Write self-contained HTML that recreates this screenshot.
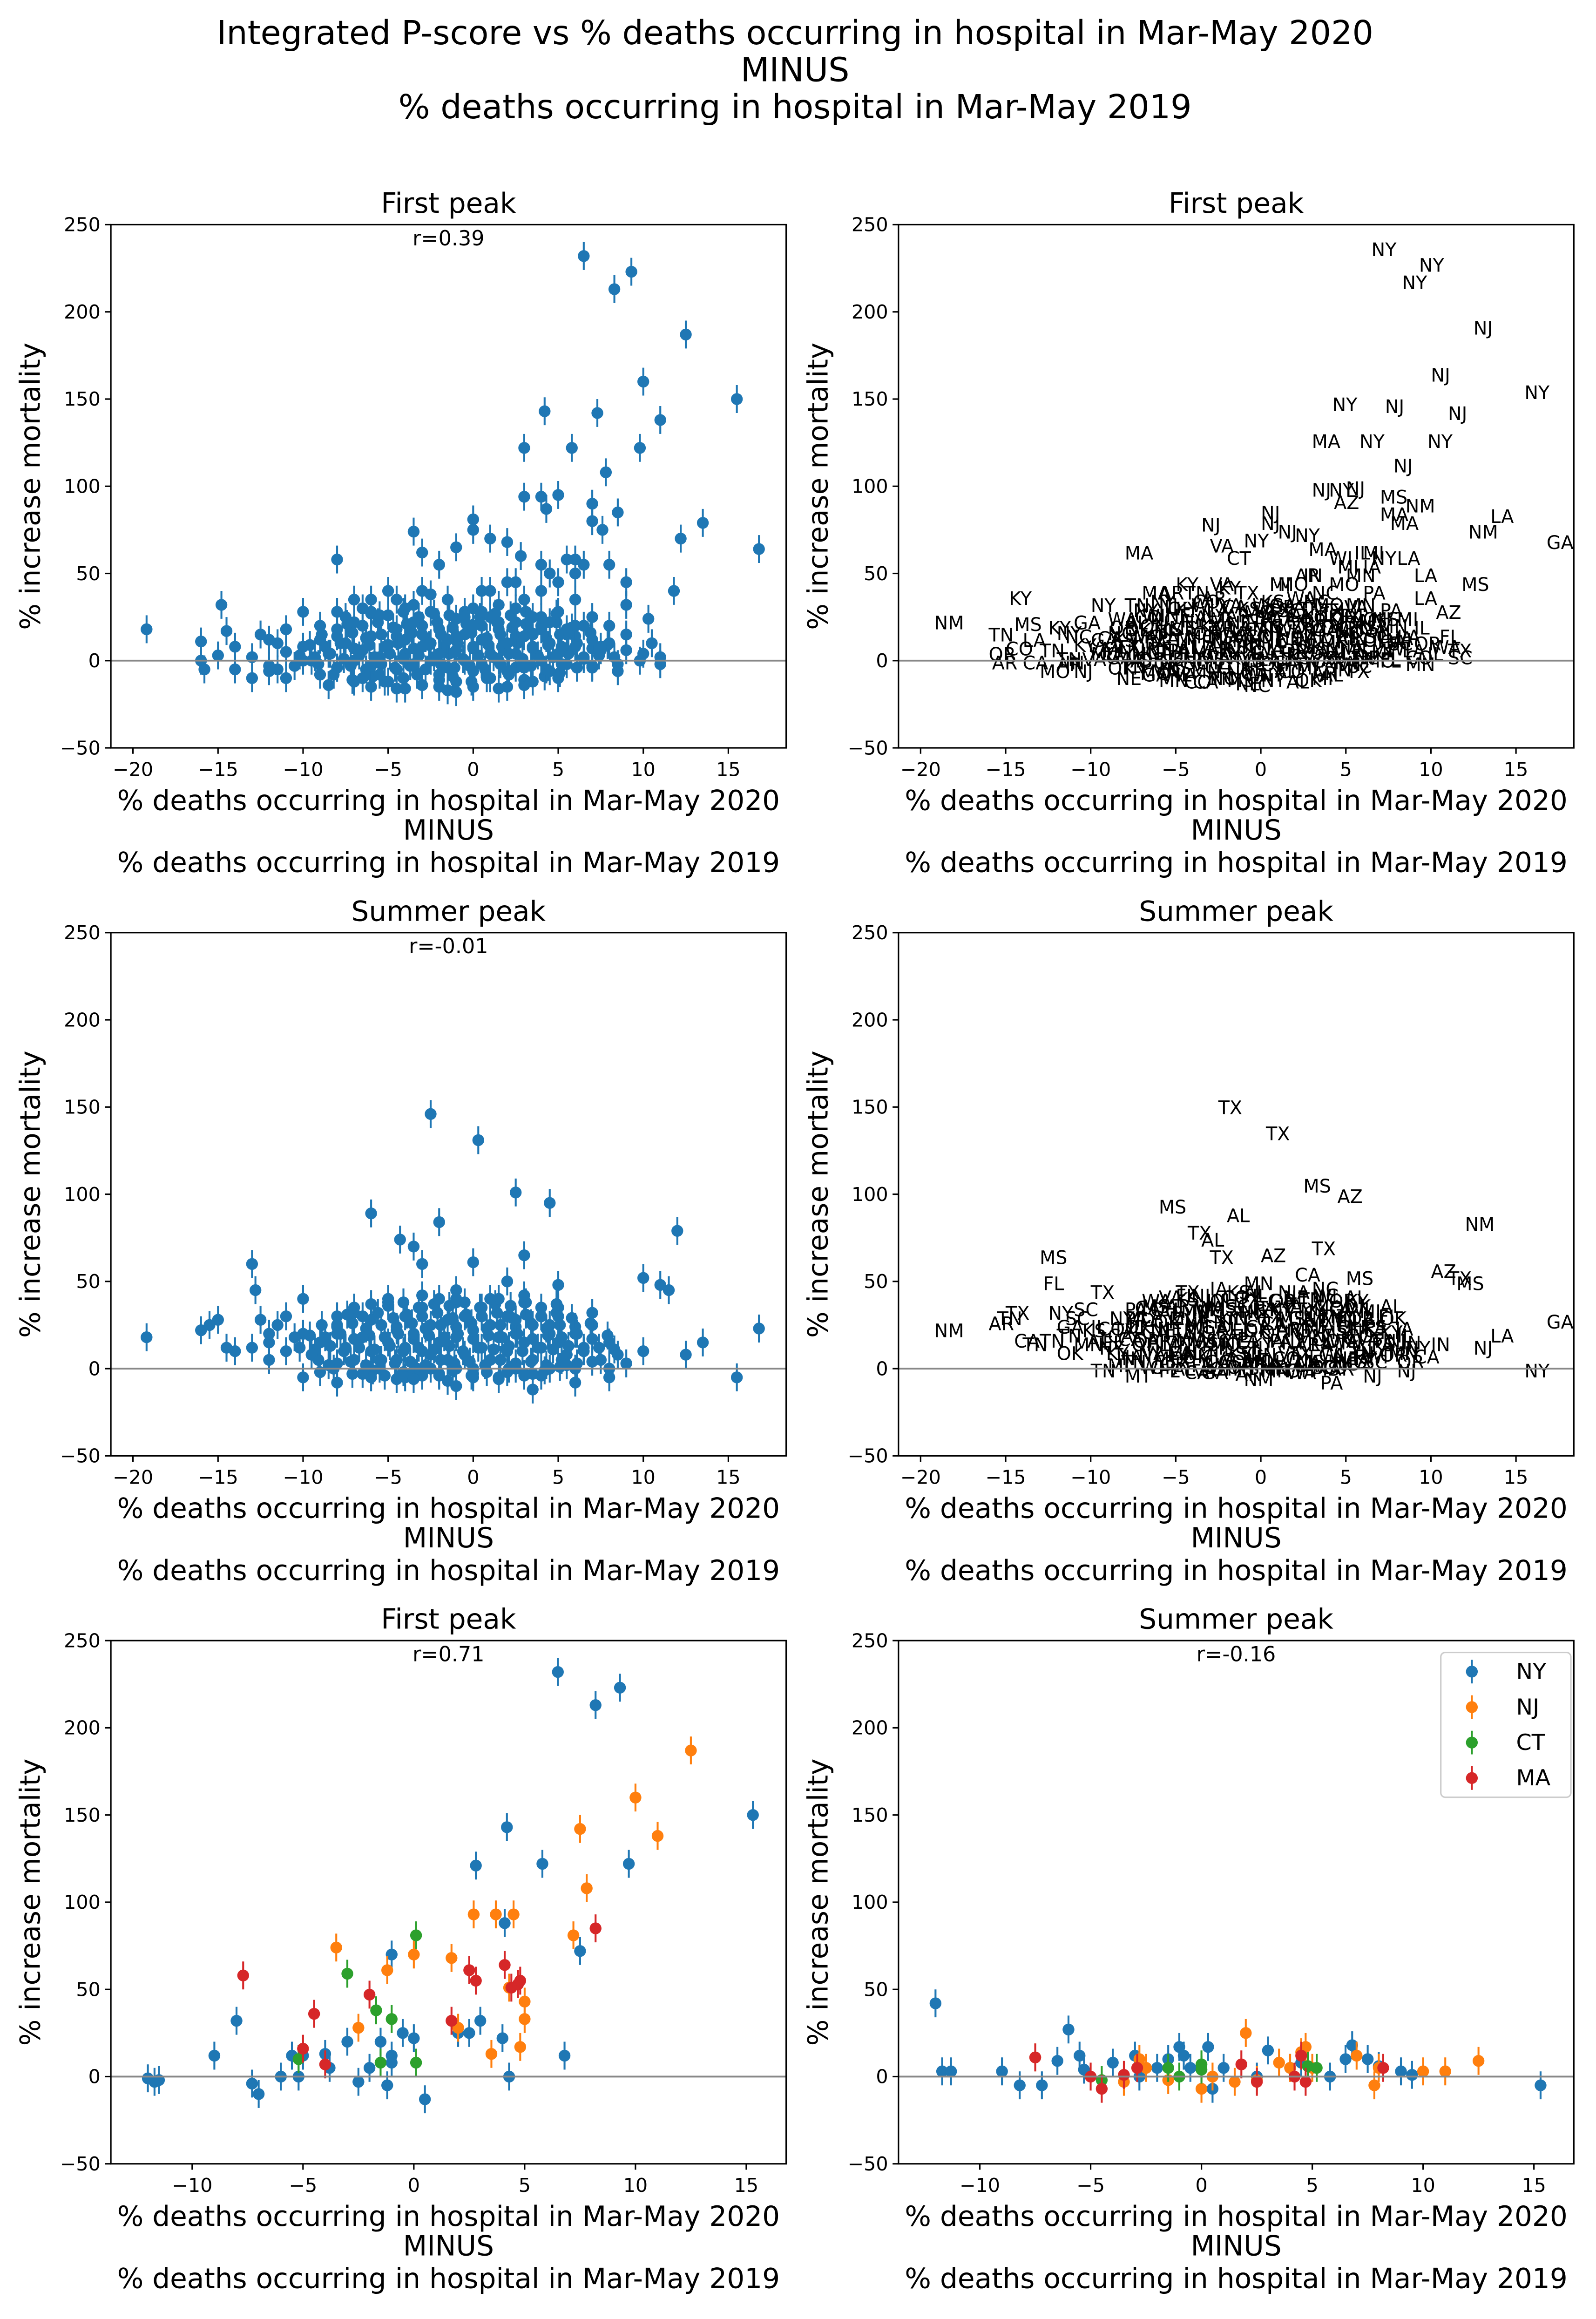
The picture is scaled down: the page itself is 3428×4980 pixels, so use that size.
<!DOCTYPE html>
<html><head><meta charset="utf-8"><style>html,body{margin:0;padding:0;background:#fff}svg{display:block}text{font-family:"DejaVu Sans","Liberation Sans",sans-serif}</style></head>
<body>
<svg id="fig" xmlns="http://www.w3.org/2000/svg" width="3428" height="4980" viewBox="0 0 1080 1569">
<rect width="1080" height="1569" fill="#fff"/>
<text x="538" y="30" font-size="22.5" text-anchor="middle">Integrated P-score vs % deaths occurring in hospital in Mar-May 2020</text>
<text x="538" y="55" font-size="22.5" text-anchor="middle">MINUS</text>
<text x="538" y="80" font-size="22.5" text-anchor="middle">% deaths occurring in hospital in Mar-May 2019</text>
</svg>
<script>
// ---- data ----
const firstOutX=[-19.2,-16,-15.8,-14.8,-14.5,-14,-13,-12.5,-12,-11.5,-11,-10,-8,-6.5,-7,-3.5,-3,-2,-1,0,0,1,2,3,3,4,4.2,4.3,5,5.8,6.5,7,7.3,7.8,8.3,9.3,9.8,10,11,12.5,15.5,16.8,13.5,12.2,10.3,11,11.8,9.8,9,8,7.6,6.5,6,5.5,2.8,4.5,7,8.5,9];
const firstOutY=[18,11,-5,32,17,-5,-10,15,-3,10,18,28,58,30,35,74,62,55,65,81,75,70,68,122,94,94,143,87,95,122,232,90,142,108,213,223,122,160,138,187,150,64,79,70,24,2,40,0,45,55,75,55,58,58,60,50,80,85,32];
const firstOutL=["NM","TN","AR","KY","MS","CA","MO","KY","TN","NC","GA","NY","MA","NY","MA","NJ","VA","CT","NY","NJ","NJ","NJ","NY","MA","NJ","NY","NY","AZ","NJ","NY","NY","MS","NJ","NJ","NY","NY","NY","NJ","NJ","NJ","NY","GA","LA","NM","AZ","TX","MS","IL","LA","LA","MA","NY","MI","IL","MA","MI","MA","NM","LA"];
const cloudX=[-13,-12,-11,-10.5,-10,-9.5,-9,-9,-8.5,-8,-8,-7.5,-7,-7,-6.5,-6.5,-6,-6,-5.5,-5.5,-5,-5,-4.5,-4.5,-4,-4,-4,-3.5,-3.5,-3,-3,-3,-2.5,-2.5,-2.5,-2,-2,-2,-1.5,-1.5,-1.5,-1,-1,-1,-0.5,-0.5,0,0,0,0,0.5,0.5,0.5,1,1,1,1.5,1.5,1.5,2,2,2,2.5,2.5,3,3,3,3.5,3.5,4,4,4,4.5,4.5,5,5,5.5,5.5,6,6,6.5,7,7,7.5,8,8.5,9,10,-12,-11,-8,-6,-5,-3,-7,-4,-1,2,5,3.5,-2,1,2.5,4,5,6,-5.5,-8.5,6,7,8,9,10.5,11,-14,-15,-16,-9,-7.5,-6,-4.5,-3.5,-2.5,-0.5,0.5,1.5,2.5,3.5,4.5,5.5,6.5,-10,-11.5,7.5,8.5];
const cloudY=[2,-6,5,-3,8,0,12,-8,4,18,-4,10,0,22,-10,6,14,-3,26,2,9,-12,18,-5,4,30,12,-2,22,8,-14,15,0,28,10,-8,18,4,35,12,-4,24,6,-12,15,0,30,8,-6,20,40,12,-2,25,4,-10,18,32,0,10,-6,45,22,4,14,-4,35,8,25,0,18,40,10,-6,28,4,15,-2,8,35,2,12,-4,6,10,-2,6,4,12,-10,28,35,40,40,-12,-16,-18,-15,-10,-12,-15,40,45,55,45,50,-8,-14,20,25,20,15,10,-2,8,3,0,20,25,28,35,32,38,25,28,22,30,15,22,18,20,0,-5,8,-6];
const cloud2X=[-8.2,-7.1,-5.9,-5.2,-4.1,-3.3,-2.0,-1.2,-0.1,0.8,2.1,3.0,4.2,5.1,
 -9.1,-8.0,-7.2,-6.3,-5.4,-4.6,-3.7,-2.8,-1.9,-1.1,-0.2,0.7,1.6,2.5,3.4,4.3,5.2,6.1,7.0,
 -10.2,-9.3,-8.4,-7.6,-6.7,-5.8,-4.9,-4.1,-3.2,-2.3,-1.4,-0.6,0.3,1.2,2.1,2.9,3.8,4.7,5.6,6.5,7.4,8.3,
 -9.6,-8.7,-7.8,-7.0,-6.1,-5.2,-4.4,-3.5,-2.6,-1.7,-0.9,0,0.9,1.7,2.6,3.5,4.4,5.2,6.1,7.0,7.9,
 -8.9,-8.0,-7.1,-6.3,-5.4,-4.5,-3.6,-2.8,-1.9,-1.0,-0.1,0.8,1.6,2.5,3.4,4.3,5.1,6.0,6.9,
 -7.4,-6.5,-5.6,-4.7,-3.9,-3.0,-2.1,-1.2,-0.4,0.5,1.4,2.3,3.1,4.0,4.9,5.8,
 -6,-5,-4.1,-3.2,-2.3,-1.4,-0.5,0.4,1.3,2.2,3.1,4.0,4.9,
 -6,-4.5,-3,-1.5,0,1.5,3];
const cloud2Y=[-8,-11,-9,-12,-10,-8,-11,-9,-12,-10,-8,-11,-9,-7,
 -2,-4,-3,-5,-2,-4,-3,-5,-2,-4,-3,-5,-2,-4,-3,-5,-2,-4,-3,
 3,2,4,1,3,2,4,1,3,2,4,1,3,2,4,1,3,2,4,1,3,2,
 9,8,10,7,9,8,10,7,9,8,10,7,9,8,10,7,9,8,10,7,9,
 15,14,16,13,15,14,16,13,15,14,16,13,15,14,16,13,15,14,16,
 21,20,22,19,21,20,22,19,21,20,22,19,21,20,22,19,
 27,26,28,25,27,26,28,25,27,26,28,25,27,
 -15,-16,-14,-17,-15,-16,-14];
const cloudL=["TN","AR","KY","VA","GA","CA","NC","OK","TX","AL","MS","MO","IN","WI","MN","IA","KS","NE","OH","PA","MI","IL","FL","SC","LA","CO","OR","WA","NY","NJ"];

const sumOutX=[-19.2,-16,-15.5,-15,-14.5,-14,-13,-12.8,-12.5,-12,-11,-10,-6,-4.3,-3.5,-3,-2.5,-2,-1,0,0.3,2,2.5,3,4.5,5,10,11,12,11.5,12.5,13.5,15.5,16.8,-10,-8,-1,3.5,6,8];
const sumOutY=[18,22,25,28,12,10,60,45,28,20,30,40,89,74,70,60,146,84,40,61,131,50,101,65,95,48,52,48,79,45,8,15,-5,23,-5,-8,-10,-12,-8,-5];
const sumOutL=["NM","AR","TN","TX","CA","TN","MS","FL","NY","GA","SC","TX","MS","TX","AL","TX","TX","AL","AL","AZ","TX","CA","MS","TX","AZ","MS","AZ","TX","NM","MS","NJ","LA","NY","GA","TN","MT","NM","PA","NJ","NJ"];
const sumCloudX=[-13,-12,-11,-10,-9.5,-9,-8.5,-8,-7.5,-7,-7,-6.5,-6,-6,-5.5,-5,-5,-4.5,-4.5,-4,-4,-3.5,-3.5,-3,-3,-2.5,-2.5,-2,-2,-1.5,-1.5,-1,-1,-0.5,-0.5,0,0,0.5,0.5,1,1,1.5,1.5,2,2,2.5,2.5,3,3,3.5,3.5,4,4,4.5,4.5,5,5,5.5,6,6,6.5,7,7.5,8,8.5,9,10,-8,-6.5,-4,-2,0,2,4,-5,-3,-1,1,3,5,-9,-7,-3.5,-1,1.5,3.5,5.5,7,-10.5,-11.5,-12,-8,-5.5,-2.5,0.5,2.5,4.5,6.5,8];
const sumCloudY=[12,5,10,20,8,15,2,25,12,5,32,18,10,28,0,15,38,22,5,12,30,-2,20,10,35,0,25,15,40,5,28,18,45,8,30,22,0,12,35,5,25,18,40,10,30,0,20,15,38,5,25,12,30,0,20,15,35,8,20,0,12,25,5,15,8,3,10,30,-3,-5,-4,-3,-2,-4,40,42,38,40,42,30,-2,35,-6,0,-5,-3,2,32,18,25,15,20,5,8,30,28,25,10,0];
const sum2Y=[0,-3,-1,-4,-2,0,-3,-1,-4,-2,0,-3,-1,1,
 5,3,4,2,5,3,4,2,5,3,4,2,5,3,4,2,5,3,4,
 12,11,13,10,12,11,13,10,12,11,13,10,12,11,13,10,12,11,13,10,12,11,
 19,18,20,17,19,18,20,17,19,18,20,17,19,18,20,17,19,18,20,17,19,
 25,24,26,23,25,24,26,23,25,24,26,23,25,24,26,23,25,24,26,
 31,30,32,29,31,30,32,29,31,30,32,29,31,30,32,29,
 37,36,38,35,37,36,38,35,37,36,38,35,37,
 -5,-6,-4,-7,-5,-6,-4];

const bFX={NY:[-12,-11.7,-11.5,-9,-8,-7.3,-7,-6,-5.5,-5,-5.2,-4,-3.8,-3,-2.5,-2,-1.5,-1.2,-1,-1,-1,-0.5,0,0.5,2,2.5,2.8,3,4,4.2,4.1,4.3,5.8,6.5,6.8,7.5,8.2,9.3,9.7,15.3],
 NJ:[-3.5,-2.5,-1.2,0,1.7,2.7,2,3.5,3.7,4.5,4.3,4.8,5,5,7.2,7.5,7.8,10,11,12.5],
 CT:[-5.2,-3,-1.7,-1.5,-1,0.1,0.1],
 MA:[-7.7,-5,-4.5,-4,-2,1.7,2.5,2.8,4.1,4.4,4.7,4.8,8.2]};
const bFY={NY:[-1,-3,-2,12,32,-4,-10,0,12,12,0,13,5,20,-3,5,20,-5,70,8,12,25,22,-13,25,25,121,32,22,143,88,0,122,232,12,72,213,223,122,150],
 NJ:[74,28,61,70,68,93,28,13,93,93,51,17,43,33,81,142,108,160,138,187],
 CT:[10,59,38,8,33,81,8],
 MA:[58,16,36,7,47,32,61,55,64,51,53,55,85]};
const bSX={NY:[-12,-11.7,-11.3,-9,-8.2,-7.2,-6.5,-6,-5.5,-5.3,-4,-3,-2.8,-2,-1.5,-1,-0.8,-0.5,0.3,0.5,1,2.5,3,4,4.5,5.8,6.5,6.8,7.5,8,9,9.5,15.3],
 NJ:[-7.5,-3.5,-2.8,-2.5,-1.5,0,0.5,1.5,2,2.5,3.5,4,4.5,4.7,5,7,7.8,8,10,11,12.5],
 CT:[-4.5,-1.5,-1,0,0,4.8,5.2],
 MA:[-7.5,-5,-4.5,-3.5,1.8,2.5,4.2,4.5,4.7,8.2,-2.9]};
const bSY={NY:[42,3,3,3,-5,-5,9,27,12,4,8,12,0,5,10,17,12,5,17,-7,5,0,15,5,8,0,10,18,10,6,3,1,-5],
 NJ:[11,-3,10,5,-2,-7,0,-3,25,-2,8,5,14,17,5,12,-5,5,3,3,9],
 CT:[-2,5,0,7,4,6,5],
 MA:[11,0,-7,1,7,-3,0,12,-3,5,5]};
const colors={NY:"#1f77b4",NJ:"#ff7f0e",CT:"#2ca02c",MA:"#d62728"};
const yTicks=[-50,0,50,100,150,200,250];
const xTicksA=[-20,-15,-10,-5,0,5,10,15];
const xTicksB=[-10,-5,0,5,10,15];

// ---- drawing ----
const NS="http://www.w3.org/2000/svg";
const svg=document.getElementById('fig');
function el(tag,attrs,parent){const e=document.createElementNS(NS,tag);for(const k in attrs)e.setAttribute(k,attrs[k]);(parent||svg).appendChild(e);return e;}
function makeAxes(name,left,top,xmin,xmax,xt,title,rtxt){
  const W=457,H=354,g=el('g',{});
  
  
  const sx=v=>left+(v-xmin)/(xmax-xmin)*W, sy=v=>top+(250-v)/300*H;
  const plot=el('g',{},g);
  const ax={sx,sy,plot,g};
  const zl=el('line',{x1:left,x2:left+W,y1:sy(0),y2:sy(0),stroke:'#888','stroke-width':1.2},g);
  
  
  ax.after=()=>{
    const fr=el('rect',{x:left,y:top,width:W,height:H,fill:'none',stroke:'#000','stroke-width':1},g);
    
    
  };
  yTicks.forEach(v=>{el('line',{x1:left-4,x2:left,y1:sy(v),y2:sy(v),stroke:'#000'},g);
    const t=el('text',{x:left-7,y:sy(v)+4.5,'font-size':13,'text-anchor':'end'},g);t.textContent=(v<0?'\u2212':'')+Math.abs(v);
    
    });
  xt.forEach(v=>{el('line',{x1:sx(v),x2:sx(v),y1:top+H,y2:top+H+4,stroke:'#000'},g);
    const t=el('text',{x:sx(v),y:top+H+19,'font-size':13,'text-anchor':'middle'},g);t.textContent=(v<0?'\u2212':'')+Math.abs(v);
    
    });
  const cx=left+W/2;
  ['% deaths occurring in hospital in Mar-May 2020','MINUS','% deaths occurring in hospital in Mar-May 2019'].forEach((s,i)=>{
    const t=el('text',{x:cx,y:top+H+[42,62,84][i],'font-size':18.8,'text-anchor':'middle'},g);t.textContent=s;
    
    });
  const yl=el('text',{x:0,y:0,'font-size':18.8,'text-anchor':'middle',transform:`translate(${left-48},${top+H/2}) rotate(-90)`},g);yl.textContent='% increase mortality';
  
  
  const tt=el('text',{x:cx,y:top-8,'font-size':18.8,'text-anchor':'middle'},g);tt.textContent=title;
  
  
  if(rtxt){const r=el('text',{x:cx,y:top+14,'font-size':14,'text-anchor':'middle'},g);r.textContent=rtxt;
    
    }
  return ax;
}
function pt(ax,x,y,c){
  const l=el('line',{x1:ax.sx(x),x2:ax.sx(x),y1:ax.sy(y+8),y2:ax.sy(y-8),stroke:c,'stroke-width':1.3},ax.plot);
  
  
  const p=el('circle',{cx:ax.sx(x),cy:ax.sy(y),r:4,fill:c},ax.plot);
  
  
}
function lab(ax,x,y,s){
  const t=el('text',{x:ax.sx(x),y:ax.sy(y),'font-size':12.5},ax.plot);t.textContent=s;
  
  
}
const B='#1f77b4';
// Row 1
let a=makeAxes('first-peak-scatter',75,152,-21.3,18.4,xTicksA,'First peak','r=0.39');
cloud2X.forEach((x,i)=>pt(a,x,cloud2Y[i],B));
cloudX.forEach((x,i)=>pt(a,x,cloudY[i],B));firstOutX.forEach((x,i)=>pt(a,x,firstOutY[i],B));a.after();
a=makeAxes('first-peak-labels',608,152,-21.3,18.4,xTicksA,'First peak',null);
cloud2X.forEach((x,i)=>lab(a,x,cloud2Y[i],cloudL[(i*11)%cloudL.length]));
cloudX.forEach((x,i)=>lab(a,x,cloudY[i],cloudL[i%cloudL.length]));firstOutX.forEach((x,i)=>lab(a,x,firstOutY[i],firstOutL[i]));a.after();
// Row 2
a=makeAxes('summer-peak-scatter',75,631,-21.3,18.4,xTicksA,'Summer peak','r=-0.01');
cloud2X.forEach((x,i)=>pt(a,x,sum2Y[i],B));
sumCloudX.forEach((x,i)=>pt(a,x,sumCloudY[i],B));sumOutX.forEach((x,i)=>pt(a,x,sumOutY[i],B));a.after();
a=makeAxes('summer-peak-labels',608,631,-21.3,18.4,xTicksA,'Summer peak',null);
cloud2X.forEach((x,i)=>lab(a,x,sum2Y[i],cloudL[(i*13)%cloudL.length]));
sumCloudX.forEach((x,i)=>lab(a,x,sumCloudY[i],cloudL[(i*7)%cloudL.length]));sumOutX.forEach((x,i)=>lab(a,x,sumOutY[i],sumOutL[i]));a.after();
// Row 3
a=makeAxes('first-peak-northeast',75,1110,-13.67,16.8,xTicksB,'First peak','r=0.71');
['NY','NJ','CT','MA'].forEach(s=>bFX[s].forEach((x,i)=>pt(a,x,bFY[s][i],colors[s])));a.after();
a=makeAxes('summer-peak-northeast',608,1110,-13.67,16.8,xTicksB,'Summer peak','r=-0.16');
['NY','NJ','CT','MA'].forEach(s=>bSX[s].forEach((x,i)=>pt(a,x,bSY[s][i],colors[s])));a.after();
// Legend
const lg=el('g',{});


el('rect',{x:975,y:1118,width:88,height:98,rx:3,fill:'#fff',stroke:'#ccc'},lg);
['NY','NJ','CT','MA'].forEach((s,i)=>{const y=1131+i*24;
  const e=el('g',{},lg);
  
  
  el('line',{x1:996,x2:996,y1:y-8,y2:y+8,stroke:colors[s],'stroke-width':1.3},e);
  el('circle',{cx:996,cy:y,r:4,fill:colors[s]},e);
  const t=el('text',{x:1026,y:y+5,'font-size':15},e);t.textContent=s;});
</script>
</body></html>
